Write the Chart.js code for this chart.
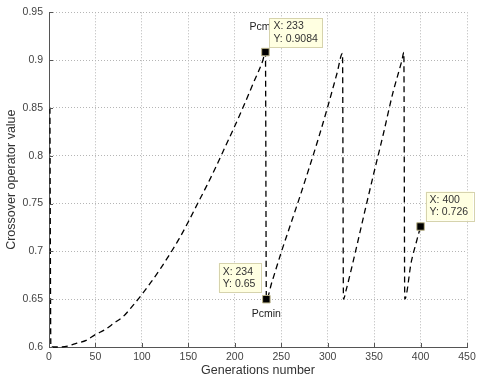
<!DOCTYPE html>
<html>
<head>
<meta charset="utf-8">
<script src="https://cdn.jsdelivr.net/npm/chart.js@4/dist/chart.umd.min.js"></script>
<style>
  html, body { margin: 0; padding: 0; background: #fff; }
  #wrap { width: 480px; height: 380px; }
</style>
</head>
<body>
<div id="wrap"><canvas id="myChart" width="480" height="380"></canvas></div>
<script>
// values
const generations = [1, 2, 10, 20, 30, 40, 50, 60, 70, 80, 90, 100, 110, 120, 130, 140, 150, 160, 170, 180, 190, 200, 210, 220, 230, 233,
  234, 240, 250, 260, 270, 280, 290, 300, 310, 316,
  317, 320, 330, 340, 350, 360, 370, 380, 382,
  383, 390, 395, 400];
const crossoverValue = [0.85, 0.6, 0.6, 0.601, 0.604, 0.607, 0.613, 0.618, 0.625, 0.632, 0.643, 0.655, 0.668, 0.682, 0.697, 0.713, 0.731, 0.75, 0.769, 0.789, 0.81, 0.831, 0.853, 0.876, 0.899, 0.9084,
  0.65, 0.668, 0.699, 0.728, 0.757, 0.787, 0.818, 0.851, 0.886, 0.907,
  0.65, 0.66, 0.70, 0.742, 0.783, 0.823, 0.865, 0.9, 0.908,
  0.65, 0.689, 0.708, 0.726];

// data tips
const tipGens = [233, 234, 400];
const tipVals = [0.9084, 0.65, 0.726];
const tipLabels = ['Pcmax', 'Pcmin', ''];

const xTicks = [0, 50, 100, 150, 200, 250, 300, 350, 400, 450];
const yTicks = [0.6, 0.65, 0.7, 0.75, 0.8, 0.85, 0.9, 0.95];

const FONT = '"Liberation Sans", Arial, Helvetica, sans-serif';

// box offsets from the marker (px), like matlab datatips
const tipBoxes = [
  { dx: 4, dy: -34, side: 'right' },
  { dx: -6, dy: -36, side: 'left' },
  { dx: 5, dy: -35, side: 'right' },
];

const dataTips = {
  id: 'dataTips',
  afterDatasetsDraw(chart) {
    const { ctx, scales: { x, y }, chartArea } = chart;
    ctx.save();

    // inward tick marks
    ctx.strokeStyle = '#555';
    ctx.lineWidth = 1;
    ctx.beginPath();
    xTicks.forEach(v => {
      const px = Math.round(x.getPixelForValue(v)) + 0.5;
      ctx.moveTo(px, chartArea.bottom);
      ctx.lineTo(px, chartArea.bottom - 4);
    });
    yTicks.forEach(v => {
      const py = Math.round(y.getPixelForValue(v)) + 0.5;
      ctx.moveTo(chartArea.left, py);
      ctx.lineTo(chartArea.left + 4, py);
    });
    ctx.stroke();

    ctx.font = '10.5px ' + FONT;
    ctx.textBaseline = 'middle';

    // Pcmax / Pcmin labels (drawn first so the box can cover them)
    tipGens.forEach((g, i) => {
      if (!tipLabels[i]) return;
      const px = x.getPixelForValue(g);
      const py = y.getPixelForValue(tipVals[i]);
      ctx.fillStyle = '#222';
      ctx.textAlign = 'center';
      ctx.fillText(tipLabels[i], px, i === 0 ? py - 25 : py + 15);
    });

    tipGens.forEach((g, i) => {
      const px = x.getPixelForValue(g);
      const py = y.getPixelForValue(tipVals[i]);
      const l1 = 'X: ' + g;
      const l2 = 'Y: ' + tipVals[i];
      const w = Math.max(ctx.measureText(l1).width, ctx.measureText(l2).width) + 9;
      const h = 29;
      const b = tipBoxes[i];
      const left = b.side === 'right' ? px + b.dx : px + b.dx - w;
      const top = py + b.dy;
      ctx.fillStyle = '#ffffe1';
      ctx.fillRect(left, top, w, h);
      ctx.strokeStyle = '#d6d3ad';
      ctx.lineWidth = 1;
      ctx.strokeRect(Math.round(left) + 0.5, Math.round(top) + 0.5, Math.round(w), h);
      ctx.fillStyle = '#333';
      ctx.textAlign = 'left';
      ctx.fillText(l1, left + 4, top + 8.5);
      ctx.fillText(l2, left + 4, top + 21);
    });
    ctx.restore();
  }
};

const ctx = document.getElementById('myChart').getContext('2d');
const myChart = new Chart(ctx, {
  type: 'line',
  data: {
    datasets: [
      {
        data: generations.map((g, i) => ({ x: g, y: crossoverValue[i] })),
        borderColor: '#000',
        borderWidth: 1.3,
        borderDash: [6, 4],
        pointRadius: 0,
        cubicInterpolationMode: 'monotone',
        fill: false,
        clip: false,
        order: 2,
      },
      {
        data: tipGens.map((g, i) => ({ x: g, y: tipVals[i] })),
        showLine: false,
        pointStyle: 'rect',
        pointRadius: 5.3,
        backgroundColor: '#000',
        borderColor: '#bdb58a',
        borderWidth: 1,
        order: 1,
      },
    ],
  },
  options: {
    responsive: false,
    animation: false,
    events: [],
    layout: { padding: { top: 9, right: 13, left: 0, bottom: 0 } },
    plugins: { legend: { display: false }, tooltip: { enabled: false } },
    scales: {
      x: {
        type: 'linear',
        min: 0,
        max: 450,
        afterBuildTicks: s => { s.ticks = xTicks.map(v => ({ value: v })); },
        afterFit: s => { s.height = 33; },
        grid: { color: '#b5b5b5', drawTicks: false },
        border: { display: true, color: '#555', width: 1, dash: [1, 2] },
        ticks: { color: '#444', font: { family: FONT, size: 10.5 }, padding: 4, maxRotation: 0 },
        title: { display: true, text: 'Generations number', color: '#333', font: { family: FONT, size: 12.5 }, padding: { top: 0, bottom: 2 } },
      },
      y: {
        type: 'linear',
        min: 0.6,
        max: 0.95,
        afterBuildTicks: s => { s.ticks = yTicks.map(v => ({ value: v })); },
        afterFit: s => { s.width = 49; },
        grid: { color: '#b5b5b5', drawTicks: false },
        border: { display: true, color: '#555', width: 1, dash: [1, 2] },
        ticks: { color: '#444', font: { family: FONT, size: 10.5 }, padding: 6, callback: v => String(+v.toFixed(2)) },
        title: { display: true, text: 'Crossover operator value', color: '#333', font: { family: FONT, size: 12.5 }, padding: { top: 4, bottom: 0 } },
      },
    },
  },
  plugins: [dataTips],
});
</script>
</body>
</html>
